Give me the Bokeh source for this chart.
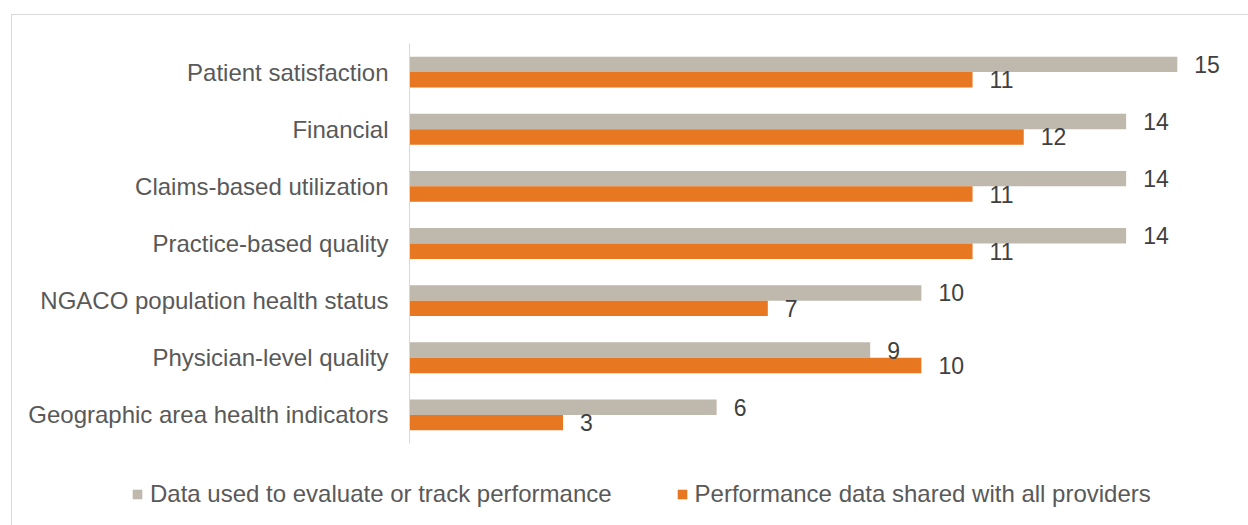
from bokeh.plotting import figure
from bokeh.models import ColumnDataSource, FactorRange, Range1d, Legend, LegendItem
from bokeh.layouts import column
from bokeh.transform import dodge
from bokeh.core.properties import value
from bokeh.embed import file_html
from bokeh.resources import INLINE

categories = [
    "Patient satisfaction",
    "Financial",
    "Claims-based utilization",
    "Practice-based quality",
    "NGACO population health status",
    "Physician-level quality",
    "Geographic area health indicators",
]
evaluate_track = [15, 14, 14, 14, 10, 9, 6]
shared_all = [11, 12, 11, 11, 7, 10, 3]
series_names = ["Data used to evaluate or track performance",
                "Performance data shared with all providers"]

GRAY = "#BFB8AD"
ORANGE = "#E87722"
FONT = "Liberation Sans"

src = ColumnDataSource(dict(
    cat=categories,
    a=evaluate_track,
    b=shared_all,
    a_lbl=[str(v) for v in evaluate_track],
    b_lbl=[str(v) for v in shared_all],
))

# ---- main bar chart ----
p = figure(
    width=1236, height=433,
    y_range=FactorRange(*list(reversed(categories)), range_padding=0),
    x_range=Range1d(0, 16),
    output_backend="svg", toolbar_location=None,
    min_border_left=397, min_border_right=20,
    min_border_top=28, min_border_bottom=5,
)
p.frame_align = False
p.y_range.factor_padding = 0
p.outline_line_color = None
p.grid.visible = False
p.xaxis.visible = False

yax = p.yaxis[0]
yax.axis_line_color = "#D9D9D9"
yax.axis_line_width = 1
yax.major_tick_line_color = None
yax.minor_tick_line_color = None
yax.major_label_standoff = 15
yax.major_label_text_font = FONT
yax.major_label_text_font_size = "24px"
yax.major_label_text_color = "#595959"

p.hbar(y=dodge("cat", 0.135, range=p.y_range), right="a", left=0, height=0.27,
       source=src, fill_color=GRAY, line_color=None)
p.hbar(y=dodge("cat", -0.135, range=p.y_range), right="b", left=0, height=0.27,
       source=src, fill_color=ORANGE, line_color=None)

p.text(x="a", y=dodge("cat", 0.135, range=p.y_range), text="a_lbl", source=src,
       x_offset=17, y_offset=0, text_baseline="middle", text_align="left",
       text_font=value(FONT), text_font_size="23px", text_color="#404040")
p.text(x="b", y=dodge("cat", -0.135, range=p.y_range), text="b_lbl", source=src,
       x_offset=17, y_offset=0, text_baseline="middle", text_align="left",
       text_font=value(FONT), text_font_size="23px", text_color="#404040")

# ---- legend strip ----
lf = figure(
    width=1236, height=77,
    x_range=Range1d(0, 1), y_range=Range1d(0, 1),
    output_backend="svg", toolbar_location=None,
    min_border=0,
)
lf.frame_align = False
lf.outline_line_color = None
lf.grid.visible = False
lf.axis.visible = False
# legend swatches only: zero-width bars placed outside the strip's ranges
g1 = lf.hbar(y=[-5], right=[-5], left=-5, height=0.5, fill_color=GRAY, line_color=None)
g2 = lf.hbar(y=[-5], right=[-5], left=-5, height=0.5, fill_color=ORANGE, line_color=None)

legend = Legend(
    items=[LegendItem(label=series_names[0], renderers=[g1]),
           LegendItem(label=series_names[1], renderers=[g2])],
    orientation="horizontal",
    location=(119, 17),
    glyph_width=12, glyph_height=12, label_standoff=7, spacing=64,
    label_text_font=FONT, label_text_font_size="24px", label_text_color="#595959",
    border_line_alpha=0, background_fill_alpha=0, padding=0, margin=0,
)
lf.add_layout(legend, "center")

layout = column(p, lf, spacing=0)
layout.margin = (14, 0, 0, 11)
layout.styles = {"border-top": "1px solid #D9D9D9", "border-left": "1px solid #D9D9D9"}

open("out.html", "w").write(file_html(layout, INLINE))
